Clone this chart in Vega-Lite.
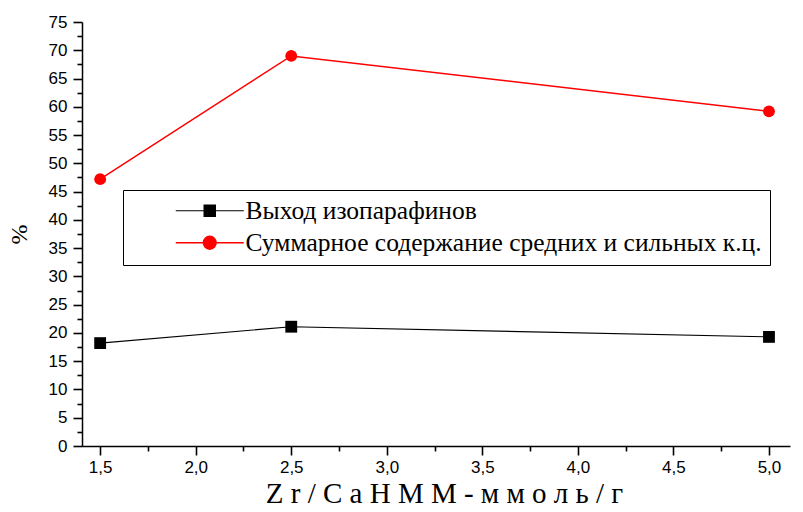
{
  "$schema": "https://vega.github.io/schema/vega-lite/v6.json",
  "autosize": "none",
  "width": 708,
  "height": 424,
  "padding": {"left": 82, "top": 22, "right": 13, "bottom": 66},
  "background": "white",
  "config": {
    "view": {"stroke": null},
    "axis": {
      "domainColor": "black",
      "domainWidth": 1.5,
      "tickColor": "black",
      "tickWidth": 1.6,
      "labelColor": "black",
      "labelFont": "Liberation Sans",
      "labelFontSize": 17,
      "titleColor": "black",
      "titleFont": "Liberation Serif",
      "titleFontWeight": "normal",
      "grid": false
    }
  },
  "data": {
    "values": [
      {"x": 1.5, "y": 18.2, "series": "Выход изопарафинов"},
      {"x": 2.5, "y": 21.1, "series": "Выход изопарафинов"},
      {"x": 5.0, "y": 19.3, "series": "Выход изопарафинов"},
      {"x": 1.5, "y": 47.2, "series": "Суммарное содержание средних и сильных к.ц."},
      {"x": 2.5, "y": 69.0, "series": "Суммарное содержание средних и сильных к.ц."},
      {"x": 5.0, "y": 59.2, "series": "Суммарное содержание средних и сильных к.ц."}
    ]
  },
  "encoding": {
    "x": {
      "field": "x",
      "type": "quantitative",
      "scale": {"domain": [1.405, 5.11], "nice": false, "zero": false},
      "axis": {
        "title": "Z r / C a H M M - м м о л ь / г",
        "titleFontSize": 29,
        "titlePadding": 4,
        "titleX": 362,
        "values": [1.5, 1.75, 2.0, 2.25, 2.5, 2.75, 3.0, 3.25, 3.5, 3.75, 4.0, 4.25, 4.5, 4.75, 5.0],
        "labelExpr": "abs(datum.value*2 - round(datum.value*2)) < 0.001 ? replace(format(datum.value, '.1f'), '.', ',') : ''",
        "tickSize": {"condition": {"test": "abs(datum.value*2 - round(datum.value*2)) < 0.001", "value": 9}, "value": 5},
        "labelPadding": 4
      }
    },
    "y": {
      "field": "y",
      "type": "quantitative",
      "scale": {"domain": [0, 75], "nice": false},
      "axis": {
        "title": "%",
        "titleFontSize": 24,
        "titlePadding": 17,
        "values": [0, 2.5, 5, 7.5, 10, 12.5, 15, 17.5, 20, 22.5, 25, 27.5, 30, 32.5, 35, 37.5, 40, 42.5, 45, 47.5, 50, 52.5, 55, 57.5, 60, 62.5, 65, 67.5, 70, 72.5, 75],
        "labelExpr": "datum.value % 5 === 0 ? format(datum.value, 'd') : ''",
        "tickSize": {"condition": {"test": "datum.value % 5 === 0", "value": 9}, "value": 5},
        "labelPadding": 6
      }
    },
    "color": {
      "field": "series",
      "type": "nominal",
      "scale": {"domain": ["Выход изопарафинов", "Суммарное содержание средних и сильных к.ц."], "range": ["#000000", "#ff0000"]},
      "legend": {
        "title": null,
        "orient": "none",
        "legendX": 41,
        "legendY": 168,
        "direction": "vertical",
        "strokeColor": "black",
        "fillColor": "white",
        "padding": 8,
        "symbolOffset": 66,
        "symbolSize": 400,
        "symbolType": "M-3.4,0H3.4",
        "symbolStrokeWidth": 1.2,
        "labelFont": "Liberation Serif",
        "labelFontSize": 25.5,
        "labelColor": "black",
        "labelOffset": 23,
        "labelLimit": 700,
        "rowPadding": 5,
        "encoding": {
          "symbols": {
            "shape": {"value": {"expr": "datum.value === 'Выход изопарафинов' ? 'M-3.4,0H3.4M-0.57,-0.57H0.57V0.57H-0.57Z' : 'M-3.4,0H3.4M0.64,0A0.64,0.64,0,1,1,-0.64,0A0.64,0.64,0,1,1,0.64,0Z'"}},
            "fill": {"value": {"expr": "datum.value === 'Выход изопарафинов' ? '#000000' : '#ff0000'"}},
            "stroke": {"value": {"expr": "datum.value === 'Выход изопарафинов' ? '#000000' : '#ff0000'"}},
            "opacity": {"value": 1},
            "fillOpacity": {"value": 1},
            "strokeOpacity": {"value": 1}
          }
        }
      }
    }
  },
  "layer": [
    {
      "mark": {"type": "line"},
      "encoding": {
        "strokeWidth": {
          "field": "series",
          "type": "nominal",
          "scale": {"domain": ["Выход изопарафинов", "Суммарное содержание средних и сильных к.ц."], "range": [1.1, 1.5]},
          "legend": null
        }
      }
    },
    {
      "transform": [{"filter": "datum.series === 'Выход изопарафинов'"}],
      "mark": {"type": "point", "shape": "square", "filled": true, "opacity": 1, "size": 140}
    },
    {
      "transform": [{"filter": "datum.series !== 'Выход изопарафинов'"}],
      "mark": {"type": "point", "shape": "circle", "filled": true, "opacity": 1, "size": 140}
    }
  ]
}
